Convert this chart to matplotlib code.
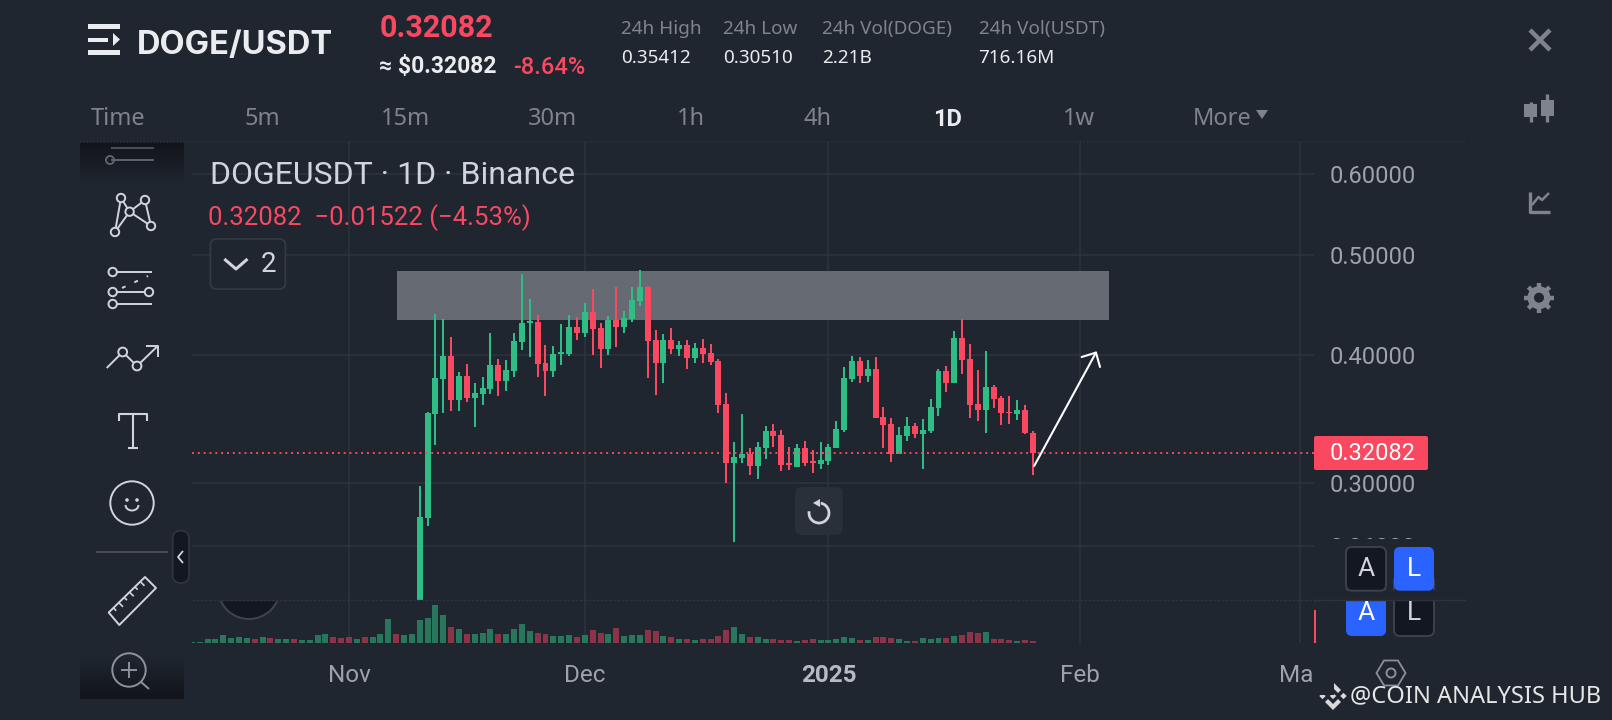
import numpy as np
import pandas as pd
import matplotlib
matplotlib.use('Agg')
import matplotlib.pyplot as plt
import matplotlib.dates as mdates
from matplotlib.patches import Rectangle, FancyBboxPatch, Circle, Polygon, Arc
from matplotlib.ticker import NullLocator, NullFormatter

# DATA
first_day = '2024-11-10'
opens = [.2100,.2770,.3500,.3787,.3988,.3612,.3813,.3629,.3661,.3703,.3908,.3770,.3856,.4116,.4295,.4305,.3926,.3856,.4006,.4006,
         .4257,.4200,.4403,.4247,.4051,.4324,.4257,.4334,.4513,.4658,.4134,.3926,.4134,.4051,.4088,.3970,.4061,.4015,.3943,.3580,
         .3135,.3170,.3199,.3114,.3243,.3369,.3339,.3135,.3107,.3243,.3149,.3128,.3149,.3243,.3376,.3787,.3943,.3813,.3873,.3477,
         .3422,.3199,.3331,.3407,.3346,.3369,.3548,.3856,.3753,.4153,.3961,.3580,.3532,.3719,.3629,.3516,.3500,.3532,.3354]
highs = [.2977,.3516,.4383,.4334,.4162,.3847,.3917,.3753,.3804,.4200,.3961,.3952,.4200,.4796,.4534,.4374,.4088,.4079,.4286,.4374,
         .4354,.4493,.4637,.4295,.4364,.4658,.4413,.4658,.4839,.4668,.4228,.4191,.4247,.4125,.4134,.4106,.4144,.4097,.3961,.3670,
         .3286,.3500,.3243,.3286,.3407,.3422,.3376,.3250,.3272,.3294,.3228,.3286,.3272,.3445,.3891,.3988,.3979,.3952,.3979,.3556,
         .3469,.3399,.3477,.3430,.3461,.3620,.3873,.3899,.4219,.4334,.4097,.3864,.4033,.3736,.3645,.3645,.3612,.3572,.3369]
lows = [.2050,.2721,.3265,.3508,.3524,.3524,.3596,.3399,.3572,.3661,.3645,.3686,.3804,.4042,.3979,.3804,.3645,.3804,.3908,.3988,
        .4134,.4162,.3997,.3882,.3997,.4070,.4200,.4305,.4463,.3796,.3653,.3753,.4006,.3988,.3873,.3926,.3926,.3908,.3508,.2997,
        .2625,.3135,.3052,.3024,.3163,.3250,.3079,.3086,.3107,.3114,.3065,.3093,.3121,.3243,.3361,.3761,.3753,.3761,.3469,.3243,
        .3142,.3199,.3294,.3316,.3093,.3354,.3485,.3678,.3753,.3830,.3469,.3445,.3354,.3548,.3415,.3422,.3453,.3346,.3051]
closes = [.2776,.3508,.3796,.3988,.3612,.3813,.3629,.3670,.3711,.3908,.3770,.3864,.4125,.4295,.4315,.3917,.3856,.4006,.4024,.4257,
          .4200,.4403,.4238,.4051,.4324,.4257,.4344,.4523,.4658,.4125,.3926,.4134,.4051,.4088,.3970,.4061,.4006,.3934,.3572,.3135,
          .3178,.3199,.3114,.3250,.3369,.3331,.3121,.3121,.3243,.3135,.3135,.3156,.3250,.3384,.3796,.3943,.3813,.3873,.3469,.3415,
          .3199,.3339,.3407,.3346,.3376,.3556,.3856,.3753,.4153,.3952,.3572,.3532,.3719,.3620,.3508,.3508,.3532,.3354,.32082]

# volume of the 29 days before the first visible candle, then of the candles
early_volumes = [.4,.4,1.2,1.2,2.4,1.5,1.8,1.5,1.2,1.8,1.5,1.2,1.2,1.2,.9,.9,2.4,2.7,1.8,1.5,1.8,1.2,1.8,1.8,2.7,7.2,2.7,2.4,2.7]
early_colours = list('ggggggggrgrggrggggrrrgrgggrgg')
volumes = [6.9,7.5,11.4,8.4,4.8,4.2,2.7,2.7,3.0,4.2,2.7,2.7,4.2,5.7,3.6,3.0,2.7,2.1,2.1,2.4,
           1.8,2.4,3.9,3.0,2.7,4.5,2.1,2.4,2.4,3.9,3.6,2.1,1.8,1.2,1.2,.9,1.2,1.2,2.1,3.9,
           4.8,2.7,1.8,1.8,1.2,1.2,.9,.9,.6,.9,1.2,.9,.9,1.2,1.8,1.5,.9,.9,1.8,1.8,
           1.5,1.2,.6,.6,1.5,1.2,1.5,1.5,2.1,2.4,3.3,3.0,3.3,1.2,1.2,.9,.6,.9,.6]

price_ticks = [0.6, 0.5, 0.4, 0.3, 0.26]
last_price = 0.32082
date_ticks = ['2024-11-01', '2024-12-01', '2025-01-01', '2025-02-02', '2025-03-02']
date_labels = ['Nov', 'Dec', '2025', 'Feb', 'Mar']
zone_dates = ['2024-11-07 03:00', '2025-02-05 18:00']
zone_prices = [0.4325, 0.4828]
arrow_start = ('2025-01-27 04:00', 0.3114)
arrow_end = ('2025-02-04 03:00', 0.4031)

# COLOURS
BG = '#1f2630'
GRID = '#2d343e'
GREEN = '#2ebd85'
RED = '#f94860'
VOL_GREEN = '#28765c'
VOL_RED = '#8c3447'
GREY = '#7f838c'
LABEL = '#9da2ac'
ICON = '#d1d4dc'
WHITE = '#eaecef'
DARK = '#131722'
BLUE = '#2a63ff'

W, H = 1612, 720
plt.rcParams['font.family'] = ['Roboto', 'DejaVu Sans']
fig = plt.figure(figsize=(W / 100, H / 100), dpi=100, facecolor=BG)


def px_axes(x0, y0, x1, y1):
    a = fig.add_axes([x0 / W, 1 - y1 / H, (x1 - x0) / W, (y1 - y0) / H], facecolor=BG)
    for s in a.spines.values():
        s.set_visible(False)
    return a


# PRICE PANE
days = mdates.date2num(pd.date_range(first_day, periods=len(closes)))
day_ticks = mdates.date2num(pd.to_datetime(date_ticks))
nov = day_ticks[0]
xlim = (nov - 157 / 7.86, nov + 965 / 7.86)

ax = px_axes(192, 142, 1314, 600)
ax.set_yscale('log')
ax.set_xlim(xlim)
ax.set_ylim(0.2304, 0.6454)
ax.yaxis.tick_right()
ax.set_yticks(price_ticks)
ax.set_yticklabels(['%.5f' % p for p in price_ticks], color=LABEL, fontsize=17)
ax.yaxis.set_minor_locator(NullLocator())
ax.yaxis.set_minor_formatter(NullFormatter())
ax.set_xticks(day_ticks)
ax.tick_params(axis='both', length=0, pad=11.5)
ax.tick_params(axis='x', labelbottom=False)
ax.grid(True, color=GRID, lw=1.1, zorder=0)
ax.set_axisbelow(True)

zx = mdates.date2num(pd.to_datetime(zone_dates))
ax.add_patch(Rectangle((zx[0], zone_prices[0]), zx[1] - zx[0], zone_prices[1] - zone_prices[0],
                       facecolor='#666a73', edgecolor='none', zorder=1))
ax.axhline(last_price, color=RED, lw=1.4, ls=(0, (1, 2)), zorder=4)

opens_a = np.array(opens)
closes_a = np.array(closes)
up = closes_a >= opens_a
colours = [GREEN if u else RED for u in up]
ax.vlines(days, lows, highs, colors=colours, lw=1.44, zorder=3)
ax.bar(days, np.abs(closes_a - opens_a), bottom=np.minimum(opens_a, closes_a), width=0.76,
       color=colours, linewidth=0, zorder=3)

ax.annotate('', xy=(mdates.date2num(pd.Timestamp(arrow_end[0])), arrow_end[1]),
            xytext=(mdates.date2num(pd.Timestamp(arrow_start[0])), arrow_start[1]),
            arrowprops=dict(arrowstyle='->,head_length=7.7,head_width=7.5', color='white', lw=1.5,
                            mutation_scale=1, shrinkA=0, shrinkB=0), zorder=5)

# VOLUME PANE
vol_days = np.concatenate([days[0] - np.arange(len(early_volumes), 0, -1), days])
vol_values = early_volumes + volumes
vol_colours = [VOL_GREEN if c == 'g' else VOL_RED for c in early_colours] + \
              [VOL_GREEN if u else VOL_RED for u in up]
axv = px_axes(192, 600, 1314, 643)
axv.set_xlim(xlim)
axv.set_ylim(0, 12.9)
axv.set_yticks([])
axv.set_xticks(day_ticks)
axv.set_xticklabels(date_labels, color=LABEL, fontsize=17.5)
axv.get_xticklabels()[2].set_fontweight('bold')
axv.get_xticklabels()[2].set_color('#b7bac3')
axv.tick_params(axis='x', length=0, pad=15)
axv.grid(True, axis='x', color=GRID, lw=1.1, zorder=0)
axv.set_axisbelow(True)
axv.bar(vol_days, vol_values, width=0.76, color=vol_colours, linewidth=0, zorder=2)

# EVERYTHING AROUND THE CHART, in picture pixels
ui = fig.add_axes([0, 0, 1, 1], facecolor='none', zorder=10)
ui.axis('off')


def line(xs, ys, color=ICON, lw=1.4, **kw):
    kw.setdefault('zorder', 5.5)
    ui.plot(xs, ys, color=color, lw=lw, solid_capstyle='butt', **kw)


def ring(x, y, r, color=ICON, lw=1.4, fc=BG):
    ui.add_patch(Circle((x, y), r, facecolor=fc, edgecolor=color, lw=lw, zorder=6))


def box(x0, y0, x1, y1, fc, ec='none', lw=1.4, rad=5, z=5):
    ui.add_patch(FancyBboxPatch((x0 + rad, y0 + rad), x1 - x0 - 2 * rad, y1 - y0 - 2 * rad,
                                boxstyle='round,pad=%g,rounding_size=%g' % (rad, rad),
                                facecolor=fc, edgecolor=ec, lw=lw, zorder=z))


def label(x, y, s, color=LABEL, size=14.5, ha='left', weight='normal', family='Noto Sans', z=8):
    ui.text(x, y, s, color=color, fontsize=size, ha=ha, va='center', fontweight=weight,
            family=[family, 'DejaVu Sans'], zorder=z)


# header
for y0, y1, x1 in [(24, 29, 120), (37.5, 42, 107.5), (50, 55, 120)]:
    ui.add_patch(Rectangle((87.9, y0), x1 - 87.9, y1 - y0, facecolor=WHITE, edgecolor='none'))
ui.add_patch(Polygon([(113, 33), (113, 46), (120, 39.5)], facecolor=WHITE, edgecolor='none'))
label(137, 45, 'DOGE/USDT', color=WHITE, size=23.5, weight='bold', family='Inter')
label(379.3, 28, '0.32082', color=RED, size=22, weight='bold', family='Roboto')
label(379.3, 67, '≈ $0.32082', color=WHITE, size=16.5, weight='bold', family='Roboto')
label(513, 67, '-8.64%', color=RED, size=17, weight='medium', family='Roboto')
for x, top, val in [(620.7, '24h High', '0.35412'), (723, '24h Low', '0.30510'),
                    (822, '24h Vol(DOGE)', '2.21B'), (978.6, '24h Vol(USDT)', '716.16M')]:
    label(x, 29, top, color=GREY, size=13.6)
    label(x, 58, val, color=WHITE, size=13.6)

for x, s in [(90.7, 'Time'), (245, '5m'), (381.4, '15m'), (527.9, '30m'), (676.8, '1h'), (803.6, '4h'),
             (1062.5, '1w'), (1193, 'More')]:
    label(x, 119, s, color=GREY, size=17)
label(932.9, 119, '1D', color=WHITE, size=17, weight='bold', family='Roboto')
ui.add_patch(Polygon([(1256, 110), (1268, 110), (1262, 119)], facecolor=GREY, edgecolor='none'))
line([80, 1465], [141.7, 141.7], color='#2a303a', lw=1.2, ls=(0, (1, 1)))

# legend over the chart
label(210.5, 176, 'DOGEUSDT · 1D · Binance', color=ICON, size=23, family='Roboto')
label(208, 218, '0.32082  −0.01522 (−4.53%)', color=RED, size=18.5, family='Roboto')
box(210.4, 239, 285.4, 289, BG, ec='#353b45', lw=1.2, rad=6)
line([224.3, 236, 247.5], [259, 269, 259], lw=2.2)
label(261, 265, '2', color=ICON, size=20, family='Roboto')

# side toolbar
grad = np.zeros((40, 2, 4))
grad[..., 3] = np.linspace(0.45, 0, 40)[:, None]
ui.imshow(grad, extent=(80, 183.6, 185, 142), aspect='auto', zorder=1)
ui.imshow(grad[::-1], extent=(80, 184, 699, 656), aspect='auto', zorder=1)
line([111, 154], [148, 148], color='#4a4f58')
line([111, 154], [160, 160], color='#5e636c')
ring(110, 160, 4, color='#5e636c', fc='none')

n = [(121, 198), (145, 200), (129.6, 211.7), (115, 232), (151, 226)]
for a, b in [(0, 3), (0, 2), (2, 1), (1, 4), (2, 4), (2, 3)]:
    line([n[a][0], n[b][0]], [n[a][1], n[b][1]])
for p in n:
    ring(p[0], p[1], 4.2)

line([113, 152], [272, 272])
line([113, 149], [292, 292])
line([113, 152], [304, 304])
line([122, 148], [288, 276], ls=(0, (2, 5)))
for p in [(112.7, 272), (112.7, 292), (149, 292), (112.7, 304)]:
    ring(p[0], p[1], 4.2)

line([106.7, 122.7, 137, 157.7], [368, 352, 366, 346])
line([146, 157.7, 157.7], [346, 346, 357])
ring(122.7, 352, 4.4)
ring(137, 366, 4.4)

line([118.7, 118.7, 147.3, 147.3], [420.5, 414, 414, 420.5], lw=1.5)
line([133, 133], [414, 447.5], lw=1.5)
line([128, 138], [447.5, 447.5], lw=1.5)

ring(132, 503, 21.7, fc='none')
ui.add_patch(Circle((127, 500), 1.8, facecolor=ICON))
ui.add_patch(Circle((137, 500), 1.8, facecolor=ICON))
ui.add_patch(Arc((132, 505), 13, 11, theta1=0, theta2=180, color=ICON, lw=1.4))

line([96, 168], [552, 552], color='#4a4f58')
box(172.7, 530.7, 189, 583, DARK, ec='#303640', lw=1.2, rad=8)
line([183, 178, 183], [551, 557, 563], lw=1.3)

ui.add_patch(Polygon([(145, 577), (156, 588), (119.3, 625), (108.7, 612.5)], closed=True,
                     facecolor='none', edgecolor=ICON, lw=1.4, joinstyle='round'))
for t in np.linspace(0.13, 0.87, 6):
    bx = 145 + (108.7 - 145) * t
    by = 577 + (612.5 - 577) * t
    k = 6 if int(round(t * 6.7)) % 2 else 4
    line([bx, bx + 0.7 * k], [by, by + 0.7 * k], lw=1.2)

ring(129, 670, 16.7, color='#8e929b', fc='none')
line([121, 137], [670, 670], color='#8e929b', zorder=7)
line([129, 129], [662, 678], color='#8e929b', zorder=7)
line([141, 149], [682, 689], color='#8e929b')

# dark half circle under the pane line
half = Circle((249, 588), 31, facecolor=DARK, edgecolor='#3f444d', lw=1.4, zorder=2)
ui.add_patch(half)
half.set_clip_path(Rectangle((200, 600.5), 100, 40, transform=ui.transData))
line([192, 1466], [600, 600], color=GRID, lw=1.0, ls=(0, (2, 1)))

# right of the chart: cover for the cut labels, price tag, buttons
ui.add_patch(Rectangle((1314, 539), 130, 60, facecolor=BG, edgecolor='none', zorder=2))
ui.add_patch(Rectangle((1314, 655), 20, 40, facecolor=BG, edgecolor='none', zorder=2))
ui.add_patch(Rectangle((1314.2, 610), 2, 33, facecolor=RED, edgecolor='none', zorder=3))
box(1314, 436, 1428, 470, RED, rad=2)
label(1330, 453, '0.32082', color='white', size=17, family='Roboto')

box(1346, 575, 1386, 636, BLUE, rad=6, z=3)
box(1394, 575, 1434, 636, DARK, ec='#3c414c', rad=6, z=3)
ui.add_patch(Rectangle((1340, 590), 100, 10.5, facecolor=BG, edgecolor='none', zorder=4))
line([1314, 1466], [600, 600], color=GRID, lw=1.0, ls=(0, (2, 1)), zorder=5)
box(1346, 547, 1386, 590.7, DARK, ec='#3c414c', rad=6)
box(1394, 547, 1434, 590.7, BLUE, rad=6)
label(1366, 569, 'A', color=ICON, size=19, ha='center', family='Roboto')
label(1414, 569, 'L', color='white', size=19, ha='center', family='Roboto')
label(1366, 613, 'A', color='white', size=19, ha='center', family='Roboto')
label(1414, 613, 'L', color=ICON, size=19, ha='center', family='Roboto')

# undo button
box(795, 487, 842.7, 535, '#2a303a', rad=7)
ui.add_patch(Arc((819, 513), 20, 20, theta1=-80, theta2=190, color=ICON, lw=2.0, zorder=7))
ui.add_patch(Polygon([(820, 499), (820, 507), (813, 503)], facecolor=ICON, edgecolor='none', zorder=7))

# far right icons
line([1530, 1550], [30, 50], color=GREY, lw=3.2)
line([1530, 1550], [50, 30], color=GREY, lw=3.2)
line([1530.7, 1530.7], [102, 122], color=GREY, lw=2.4)
line([1547, 1547], [94, 122], color=GREY, lw=2.4)
ui.add_patch(Rectangle((1524, 104), 13, 13, facecolor=GREY))
ui.add_patch(Rectangle((1541, 100), 13, 16, facecolor=GREY))
line([1529.5, 1529.5, 1550], [192, 211.5, 211.5], color=GREY, lw=2.4)
line([1532, 1538.5, 1542, 1549], [205, 197, 200, 193], color=GREY, lw=1.8)
ui.add_patch(Circle((1539, 297.7), 11.5, facecolor=GREY))
for ang in np.arange(0, 360, 45):
    c, s = np.cos(np.radians(ang)), np.sin(np.radians(ang))
    line([1539 + 9 * c, 1539 + 15 * c], [297.7 + 9 * s, 297.7 + 15 * s], color=GREY, lw=3.2)
ui.add_patch(Circle((1539, 297.7), 5, facecolor=BG, zorder=6))

# bottom right: hexagon and watermark
ui.add_patch(Polygon([(1376.5, 673), (1384, 660.5), (1398, 660.5), (1405.5, 673), (1398, 685.5), (1384, 685.5)],
                     facecolor='none', edgecolor='#8a8f99', lw=1.3))
ring(1391, 673, 4.5, color='#8a8f99', fc='none')

LOGO = '#d8d8d8'
for cx in [1322.5, 1333, 1343.5]:
    ui.add_patch(Polygon([(cx - 3.2, 696), (cx, 692.8), (cx + 3.2, 696), (cx, 699.2)], facecolor=LOGO))
ui.add_patch(Polygon([(1333, 682), (1341, 690), (1338, 693), (1333, 688), (1328, 693), (1325, 690)], facecolor=LOGO))
ui.add_patch(Polygon([(1333, 710), (1341, 702), (1338, 699), (1333, 704), (1328, 699), (1325, 702)], facecolor=LOGO))
label(1350.5, 696, '@COIN ANALYSIS HUB', color='#e6e6e6', size=17)

ui.set_xlim(0, W)
ui.set_ylim(H, 0)

plt.savefig('out.png', dpi=100, facecolor=BG)
